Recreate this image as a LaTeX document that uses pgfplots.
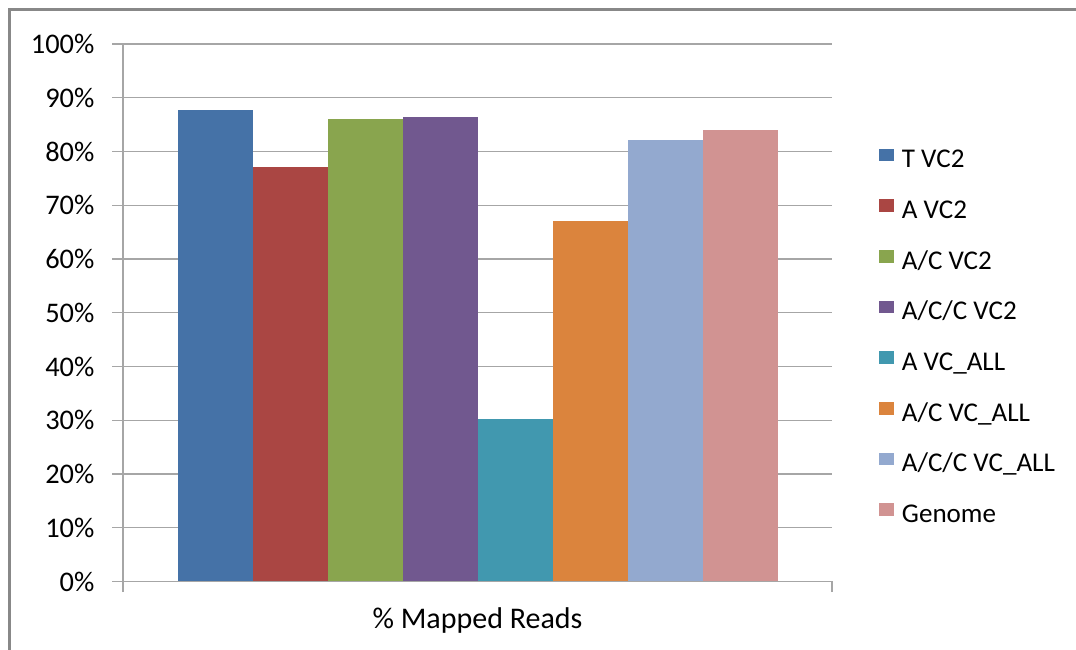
\documentclass[border=0pt]{standalone}
\usepackage{pgfplots}
\pgfplotsset{compat=1.18}
\usepackage{fontspec}
\setmainfont{Carlito}
\definecolor{c1}{HTML}{4572A7}
\definecolor{c2}{HTML}{AA4643}
\definecolor{c3}{HTML}{89A54E}
\definecolor{c4}{HTML}{71588F}
\definecolor{c5}{HTML}{4198AF}
\definecolor{c6}{HTML}{DB843D}
\definecolor{c7}{HTML}{93A9CF}
\definecolor{c8}{HTML}{D19392}
\definecolor{gridgray}{HTML}{A6A6A6}
\definecolor{framegray}{HTML}{888888}
\begin{document}
\begin{tikzpicture}[x=0.75pt,y=0.75pt]
\useasboundingbox (0,0) rectangle (1076,650);
\draw[framegray, line width=2.25pt] (9.5,0) -- (9.5,640) -- (1076,640);
\begin{axis}[
  at={(92.25pt,51.375pt)}, anchor=south west,
  scale only axis,
  width=531.75pt, height=403.125pt,
  /pgf/number format/assume math mode=true,
  ybar=0pt, bar width=56.25pt,
  xmin=-0.5, xmax=0.5,
  ymin=0, ymax=100,
  ytick={0,10,...,100},
  yticklabel={\pgfmathprintnumber{\tick}\%},
  xtick={-0.5,0.5}, xticklabels={},
  tick align=outside,
  major tick length=7.9pt,
  xtick pos=bottom, ytick pos=left,
  axis x line*=bottom, axis y line*=left,
  axis line style={draw=gridgray, line width=1pt, -},
  tick style={draw=gridgray, line width=1pt},
  ymajorgrids,
  grid style={draw=gridgray, line width=1pt},
  xlabel={\% Mapped Reads},
  xlabel style={at={(axis description cs:0.5,0)}, anchor=north, yshift=-16pt, font=\fontsize{22.5}{27}\selectfont},
  yticklabel style={xshift=-10pt, font=\fontsize{21.3}{25}\selectfont},
  legend style={at={(axis description cs:1.0663,0.452)}, anchor=west, draw=none, fill=none,
    inner sep=0pt, row sep=18pt, column sep=6pt,
    nodes={inner sep=0pt, text height=15pt, text depth=5pt, font=\fontsize{20.3}{24}\selectfont}},
  legend cell align=left,
  legend image code/.code={\fill[#1] (0pt,0pt) rectangle (11pt,9.5pt);},
  every axis plot/.append style={draw=none},
]
\addplot[fill=c1] coordinates {(0,87.8)};
\addplot[fill=c2] coordinates {(0,77.1)};
\addplot[fill=c3] coordinates {(0,86.1)};
\addplot[fill=c4] coordinates {(0,86.5)};
\addplot[fill=c5] coordinates {(0,30.3)};
\addplot[fill=c6] coordinates {(0,67.1)};
\addplot[fill=c7] coordinates {(0,82.2)};
\addplot[fill=c8] coordinates {(0,84.0)};
\legend{T VC2,A VC2,A/C VC2,A/C/C VC2,A VC\_ALL,A/C VC\_ALL,A/C/C VC\_ALL,Genome}
\end{axis}
\end{tikzpicture}
\end{document}
